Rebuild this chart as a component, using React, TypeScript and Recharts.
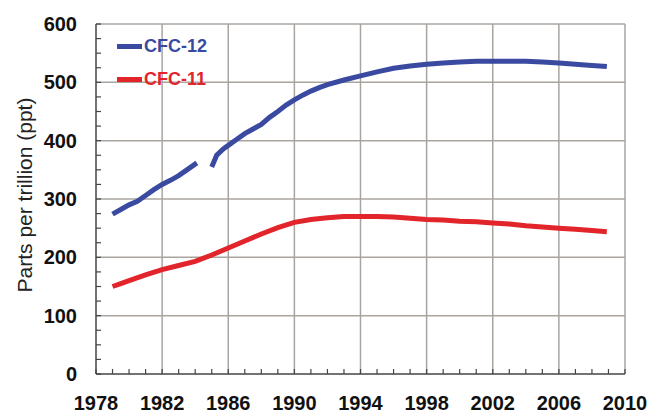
import { LineChart, Line, XAxis, YAxis, ReferenceLine, Legend, Label } from "recharts";

const FONT = '"Liberation Sans", Arial, sans-serif';
const BLUE = "#3a4aa0";
const RED = "#e2242b";
const GRID = "#aaa49f";
const AXIS = "#444";

// CFC-12 (gap in the record around 1984-85)
const cfc12Years = [
  1979.0, 1979.5, 1980.0, 1980.5, 1981.0, 1981.5, 1982.0, 1982.5, 1983.0, 1983.5, 1984.1,
  1984.5,
  1985.0, 1985.3, 1985.7, 1986.0, 1986.5, 1987.0, 1987.5, 1988.0, 1988.5, 1989.0, 1989.5,
  1990.0, 1990.5, 1991.0, 1991.5, 1992.0, 1993.0, 1994.0, 1995.0, 1996.0, 1997.0, 1998.0,
  1999.0, 2000.0, 2001.0, 2002.0, 2003.0, 2004.0, 2005.0, 2006.0, 2007.0, 2008.0, 2008.9,
];
const cfc12Values = [
  274, 282, 290, 296, 306, 316, 325, 332, 340, 350, 362,
  null,
  355, 375, 386, 392, 402, 412, 420, 428, 440, 450, 461,
  470, 478, 485, 491, 496, 504, 511, 518, 524, 528, 531,
  533, 535, 536, 536, 536, 536, 535, 533, 531, 529, 527,
];

// CFC-11
const cfc11Years = [
  1979.0, 1979.5, 1980.0, 1981.0, 1982.0, 1983.0, 1984.0, 1985.0, 1986.0, 1987.0, 1988.0,
  1989.0, 1990.0, 1991.0, 1992.0, 1993.0, 1994.0, 1995.0, 1996.0, 1997.0, 1998.0, 1999.0,
  2000.0, 2001.0, 2002.0, 2003.0, 2004.0, 2005.0, 2006.0, 2007.0, 2008.0, 2008.9,
];
const cfc11Values = [
  150, 155, 160, 170, 179, 186, 193, 204, 216, 228, 240,
  251, 260, 265, 268, 270, 270, 270, 269, 267, 265, 264,
  262, 261, 259, 257, 254, 252, 250, 248, 246, 244,
];

const xTicks = [1978, 1982, 1986, 1990, 1994, 1998, 2002, 2006, 2010];
const xMinorTicks = Array.from({ length: 33 }, (_, i) => 1978 + i);
const yTicks = [0, 100, 200, 300, 400, 500, 600];
const yMinorTicks = Array.from({ length: 25 }, (_, i) => i * 25);

const cfc12Data = cfc12Years.map((year, i) => ({ year, ppt: cfc12Values[i] }));
const cfc11Data = cfc11Years.map((year, i) => ({ year, ppt: cfc11Values[i] }));

const seriesInfo = [
  { name: "CFC-12", color: BLUE },
  { name: "CFC-11", color: RED },
];

const X_MARGIN = 22;
const Y_MARGIN = 19;
const MINOR_LEN = 5;

function XTick(props: any) {
  const { x, y, payload } = props;
  const axisY = y - X_MARGIN;
  const v = payload.value;
  return (
    <g>
      <line x1={x} x2={x} y1={axisY} y2={axisY - MINOR_LEN} stroke={AXIS} strokeWidth={1.2} />
      {xTicks.includes(v) && (
        <text x={x} y={y} dy="0.71em" textAnchor="middle" fontFamily={FONT} fontSize={20} fontWeight="bold" fill="#111">
          {v}
        </text>
      )}
    </g>
  );
}

function YTick(props: any) {
  const { x, y, payload } = props;
  const axisX = x + Y_MARGIN;
  const v = payload.value;
  return (
    <g>
      <line x1={axisX} x2={axisX + MINOR_LEN} y1={y} y2={y} stroke={AXIS} strokeWidth={1.2} />
      {yTicks.includes(v) && (
        <text x={x} y={y} dy="0.355em" textAnchor="end" fontFamily={FONT} fontSize={20} fontWeight="bold" fill="#111">
          {v}
        </text>
      )}
    </g>
  );
}

function renderLegend() {
  return (
    <div>
      {seriesInfo.map((s) => (
        <div key={s.name} style={{ display: "flex", alignItems: "center", height: 33 }}>
          <span style={{ display: "inline-block", width: 25, height: 5, background: s.color, marginRight: 2 }} />
          <span style={{ color: s.color, fontWeight: "bold", fontSize: 18, fontFamily: FONT }}>{s.name}</span>
        </div>
      ))}
    </div>
  );
}

function renderYLabel(props: any) {
  const vb = props.viewBox || {};
  const cx = 24;
  const cy = (vb.y ?? 24) + (vb.height ?? 350) / 2 - 4;
  return (
    <text
      x={cx}
      y={cy}
      transform={`rotate(-90, ${cx}, ${cy})`}
      textAnchor="middle"
      dominantBaseline="central"
      fontFamily={FONT}
      fontSize={21}
      fill="#222"
    >
      Parts per trillion (ppt)
    </text>
  );
}

export default function App() {
  return (
    <div style={{ position: "absolute", left: 0, top: 0, background: "#fff" }}>
      <LineChart width={648} height={413} margin={{ top: 24, right: 23, bottom: 0, left: 0 }}>
        <XAxis
          type="number"
          dataKey="year"
          domain={[1978, 2010]}
          ticks={xMinorTicks}
          interval={0}
          allowDataOverflow
          height={39}
          tickLine={false}
          tickSize={0}
          tickMargin={X_MARGIN}
          axisLine={{ stroke: AXIS, strokeWidth: 1.5 }}
          tick={<XTick />}
        />
        <YAxis
          type="number"
          domain={[0, 600]}
          ticks={yMinorTicks}
          interval={0}
          width={96}
          tickLine={false}
          tickSize={0}
          tickMargin={Y_MARGIN}
          axisLine={{ stroke: AXIS, strokeWidth: 1.5 }}
          tick={<YTick />}
        >
          <Label content={renderYLabel} />
        </YAxis>
        {xTicks.slice(1).map((t) => (
          <ReferenceLine key={"vx" + t} x={t} stroke={GRID} strokeWidth={1.5} />
        ))}
        {yTicks.slice(1).map((t) => (
          <ReferenceLine key={"hy" + t} y={t} stroke={GRID} strokeWidth={1.5} />
        ))}
        <Legend
          layout="vertical"
          align="center"
          verticalAlign="middle"
          content={renderLegend}
          wrapperStyle={{ left: 117, top: 30, width: "auto" }}
        />
        <Line
          data={cfc12Data}
          dataKey="ppt"
          name="CFC-12"
          stroke={BLUE}
          strokeWidth={5}
          dot={false}
          connectNulls={false}
          isAnimationActive={false}
        />
        <Line
          data={cfc11Data}
          dataKey="ppt"
          name="CFC-11"
          stroke={RED}
          strokeWidth={5}
          dot={false}
          isAnimationActive={false}
        />
      </LineChart>
    </div>
  );
}
